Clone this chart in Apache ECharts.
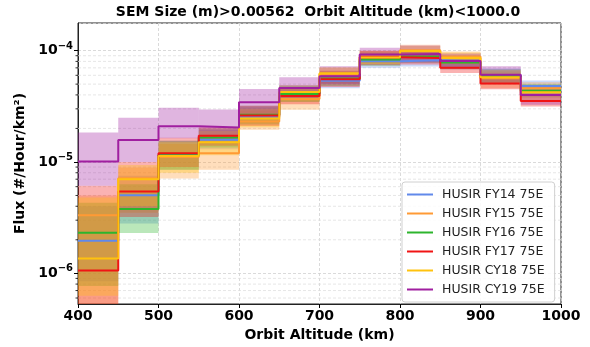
<!DOCTYPE html>
<html>
<head>
<meta charset="utf-8">
<script src="https://cdn.jsdelivr.net/npm/echarts@6/dist/echarts.min.js"></script>
<style>
  html, body { margin: 0; padding: 0; background: #ffffff; }
  #chart { width: 590px; height: 347px; }
</style>
</head>
<body>
<div id="chart"></div>
<script>
// Altitude bin edges (km); each bin is 50 km wide
const binEdges = [400, 450, 500, 550, 600, 650, 700, 750, 800, 850, 900, 950, 1000];

const seriesNames = ['HUSIR FY14 75E', 'HUSIR FY15 75E', 'HUSIR FY16 75E',
                     'HUSIR FY17 75E', 'HUSIR CY18 75E', 'HUSIR CY19 75E'];

// Flux per bin (#/Hour/km^2): central value, lower and upper bound
const fy14Mid  = [1.96e-6, 5.03e-6, 1.16e-5, 1.58e-5, 2.55e-5, 4.16e-5, 5.35e-5, 8.04e-5, 8.2e-5, 8.0e-5, 6.01e-5, 4.8e-5];
const fy14Low  = [8.5e-7, 2.8e-6, 8.5e-6, 1.3e-5, 2.15e-5, 3.5e-5, 4.6e-5, 7.0e-5, 7.2e-5, 7.0e-5, 5.2e-5, 4.3e-5];
const fy14High = [4.0e-6, 7.5e-6, 1.55e-5, 1.95e-5, 3.1e-5, 4.9e-5, 6.3e-5, 9.3e-5, 9.4e-5, 9.1e-5, 6.9e-5, 5.4e-5];

const fy15Mid  = [3.33e-6, 7.15e-6, 1.11e-5, 1.2e-5, 2.31e-5, 3.68e-5, 6.13e-5, 8.85e-5, 1.01e-4, 8.85e-5, 5.65e-5, 4.58e-5];
const fy15Low  = [4.0e-7, 3.5e-6, 7.1e-6, 8.5e-6, 1.95e-5, 2.95e-5, 5.1e-5, 7.7e-5, 8.9e-5, 7.6e-5, 4.6e-5, 4.0e-5];
const fy15High = [5.0e-6, 8.9e-6, 1.45e-5, 1.6e-5, 2.9e-5, 4.3e-5, 7.0e-5, 1.0e-4, 1.13e-4, 9.8e-5, 6.5e-5, 5.2e-5];

const fy16Mid  = [2.31e-6, 3.78e-6, 1.15e-5, 1.66e-5, 2.66e-5, 4.08e-5, 5.62e-5, 8.33e-5, 8.85e-5, 7.83e-5, 5.89e-5, 4.36e-5];
const fy16Low  = [7.7e-7, 2.3e-6, 8.5e-6, 1.35e-5, 2.2e-5, 3.45e-5, 4.8e-5, 7.3e-5, 7.8e-5, 6.8e-5, 5.1e-5, 3.8e-5];
const fy16High = [4.3e-6, 6.3e-6, 1.55e-5, 2.0e-5, 3.2e-5, 4.8e-5, 6.5e-5, 9.6e-5, 1.0e-4, 9.0e-5, 6.8e-5, 5.0e-5];

const fy17Mid  = [1.06e-6, 5.43e-6, 1.2e-5, 1.72e-5, 2.61e-5, 3.92e-5, 5.54e-5, 8.7e-5, 8.59e-5, 7.03e-5, 5.07e-5, 3.52e-5];
const fy17Low  = [4.0e-7, 3.2e-6, 9.0e-6, 1.4e-5, 2.1e-5, 3.3e-5, 4.7e-5, 7.4e-5, 7.5e-5, 6.3e-5, 4.5e-5, 3.15e-5];
const fy17High = [6.1e-6, 1.0e-5, 1.65e-5, 2.05e-5, 3.2e-5, 4.6e-5, 6.6e-5, 9.9e-5, 9.9e-5, 8.2e-5, 5.9e-5, 4.1e-5];

const cy18Mid  = [1.36e-6, 7.0e-6, 1.13e-5, 1.5e-5, 2.45e-5, 4.25e-5, 6.26e-5, 8.67e-5, 9.9e-5, 8.6e-5, 5.77e-5, 4.22e-5];
const cy18Low  = [6.3e-7, 4.0e-6, 8.0e-6, 1.15e-5, 2.05e-5, 3.5e-5, 5.4e-5, 7.6e-5, 8.8e-5, 7.6e-5, 5.0e-5, 3.6e-5];
const cy18High = [4.8e-6, 9.4e-6, 1.5e-5, 1.9e-5, 3.0e-5, 4.9e-5, 7.1e-5, 9.9e-5, 1.1e-4, 9.6e-5, 6.7e-5, 4.9e-5];

const cy19Mid  = [1.01e-5, 1.575e-5, 2.09e-5, 2.04e-5, 3.43e-5, 4.61e-5, 5.89e-5, 9.22e-5, 9.31e-5, 8.07e-5, 6.07e-5, 4.0e-5];
const cy19Low  = [6.1e-6, 1.0e-5, 1.63e-5, 1.6e-5, 2.55e-5, 3.68e-5, 5.0e-5, 8.0e-5, 7.83e-5, 6.79e-5, 5.0e-5, 3.26e-5];
const cy19High = [1.84e-5, 2.5e-5, 3.07e-5, 2.96e-5, 4.52e-5, 5.77e-5, 7.22e-5, 1.06e-4, 1.11e-4, 9.4e-5, 7.22e-5, 4.9e-5];

// Log-axis minor grid positions (2..9 x 10^k inside the visible range)
const minorTicks = [6e-7, 7e-7, 8e-7, 9e-7,
                    2e-6, 3e-6, 4e-6, 5e-6, 6e-6, 7e-6, 8e-6, 9e-6,
                    2e-5, 3e-5, 4e-5, 5e-5, 6e-5, 7e-5, 8e-5, 9e-5];

const xTicks = [400, 500, 600, 700, 800, 900, 1000];

const colors = ['#6189ea', '#ff9a35', '#2db52d', '#f01414', '#ffc20e', '#a01fa0'];
const FONT = 'DejaVu Sans';

const groups = [
  [fy14Mid, fy14Low, fy14High],
  [fy15Mid, fy15Low, fy15High],
  [fy16Mid, fy16Low, fy16High],
  [fy17Mid, fy17Low, fy17High],
  [cy18Mid, cy18Low, cy18High],
  [cy19Mid, cy19Low, cy19High]
];

function hexToRgba(hex, a) {
  const n = parseInt(hex.slice(1), 16);
  return 'rgba(' + ((n >> 16) & 255) + ',' + ((n >> 8) & 255) + ',' + (n & 255) + ',' + a + ')';
}

// Filled rectangle per bin between the lower and upper bound
function bandRenderer(fill) {
  return function (params, api) {
    const p0 = api.coord([api.value(0), api.value(3)]);
    const p1 = api.coord([api.value(1), api.value(2)]);
    const cs = params.coordSys;
    const rect = echarts.graphic.clipRectByRect(
      { x: p0[0], y: p0[1], width: p1[0] - p0[0], height: p1[1] - p0[1] },
      { x: cs.x, y: cs.y, width: cs.width, height: cs.height }
    );
    if (!rect) return;
    return { type: 'rect', shape: rect, style: { fill: fill } };
  };
}

function minorRenderer(params, api) {
  const y = api.coord([api.value(0), api.value(1)])[1];
  const cs = params.coordSys;
  return {
    type: 'group',
    children: [
      { type: 'line', shape: { x1: cs.x, y1: y, x2: cs.x + cs.width, y2: y },
        style: { stroke: '#e0e0e0', lineWidth: 0.8, lineDash: [3, 2] } },
      { type: 'line', shape: { x1: cs.x - 2.5, y1: y, x2: cs.x, y2: y },
        style: { stroke: '#000', lineWidth: 0.8 } }
    ]
  };
}

const series = [];

series.push({
  type: 'custom',
  name: 'minor',
  silent: true,
  z: 1,
  renderItem: minorRenderer,
  encode: { x: 0, y: 1 },
  data: minorTicks.map(v => [400, v])
});

groups.forEach((g, k) => {
  const [mid, low, high] = g;
  series.push({
    type: 'custom',
    name: seriesNames[k] + ' band',
    silent: true,
    z: 2,
    renderItem: bandRenderer(hexToRgba(colors[k], 0.33)),
    encode: { x: [0, 1], y: [2, 3] },
    data: mid.map((_, i) => [binEdges[i], binEdges[i + 1], low[i], high[i]])
  });
});

groups.forEach((g, k) => {
  const mid = g[0];
  series.push({
    type: 'line',
    name: seriesNames[k],
    step: 'end',
    showSymbol: false,
    symbol: 'none',
    z: 3 + k,
    color: colors[k],
    lineStyle: { color: colors[k], width: 2 },
    data: binEdges.map((e, i) => [e, mid[Math.min(i, mid.length - 1)]])
  });
});

const chart = echarts.init(document.getElementById('chart'), null, { renderer: 'canvas' });

chart.setOption({
  animation: false,
  backgroundColor: '#ffffff',
  textStyle: { fontFamily: FONT },
  graphic: [{
    type: 'text',
    x: 318, y: 12,
    style: {
      text: 'SEM Size (m)>0.00562  Orbit Altitude (km)<1000.0',
      x: 0, y: 0,
      textAlign: 'center', textVerticalAlign: 'middle',
      font: 'bold 14px "DejaVu Sans"', fill: '#000'
    }
  }],
  grid: {
    left: 78, right: 29, top: 23, bottom: 39,
    show: true, borderColor: '#222', borderWidth: 1, backgroundColor: 'transparent'
  },
  legend: {
    data: seriesNames,
    orient: 'vertical',
    left: 402, top: 182,
    icon: 'rect',
    itemWidth: 26, itemHeight: 2,
    itemGap: 6,
    padding: [6, 10, 6, 5],
    backgroundColor: 'rgba(255,255,255,0.85)',
    borderColor: '#d0d0d0', borderWidth: 1, borderRadius: 3,
    textStyle: { fontFamily: FONT, fontSize: 12.5, color: '#222', padding: [0, 0, 0, 4] }
  },
  xAxis: {
    type: 'value',
    min: 400, max: 1000, interval: 100,
    name: 'Orbit Altitude (km)',
    nameLocation: 'middle', nameGap: 24,
    nameTextStyle: { fontFamily: FONT, fontWeight: 'bold', fontSize: 14, color: '#000' },
    axisLine: { show: true, lineStyle: { color: '#222', width: 1 } },
    axisTick: { show: true, inside: false, length: 4, lineStyle: { color: '#000' } },
    axisLabel: {
      margin: 5, fontFamily: FONT, fontWeight: 'bold', fontSize: 14, color: '#000',
      formatter: v => (xTicks.indexOf(v) >= 0 ? String(v) : '')
    },
    splitLine: { show: true, lineStyle: { color: '#d0d0d0', type: [3, 2], width: 0.8 } }
  },
  yAxis: {
    type: 'log', logBase: 10,
    min: 5.3e-7, max: 1.77e-4,
    name: 'Flux (#/Hour/km²)',
    nameLocation: 'middle', nameGap: 46, nameRotate: 90,
    nameTextStyle: { fontFamily: FONT, fontWeight: 'bold', fontSize: 14, color: '#000' },
    axisLine: { show: true, lineStyle: { color: '#222', width: 1 } },
    axisTick: { show: true, inside: false, length: 4, lineStyle: { color: '#000' } },
    axisLabel: {
      margin: 5, showMinLabel: false, showMaxLabel: false,
      formatter: function (v) {
        const e = Math.log10(v);
        const r = Math.round(e);
        if (Math.abs(e - r) > 0.01) return '';
        return '{b|10}{s|−' + Math.abs(r) + '}';
      },
      rich: {
        b: { fontFamily: FONT, fontWeight: 'bold', fontSize: 14, color: '#000' },
        s: { fontFamily: FONT, fontWeight: 'bold', fontSize: 10, color: '#000',
             verticalAlign: 'bottom', padding: [0, 0, 9, 0] }
      }
    },
    splitLine: { show: true, lineStyle: { color: '#d0d0d0', type: [3, 2], width: 0.8 } }
  },
  series: series
});
</script>
</body>
</html>
